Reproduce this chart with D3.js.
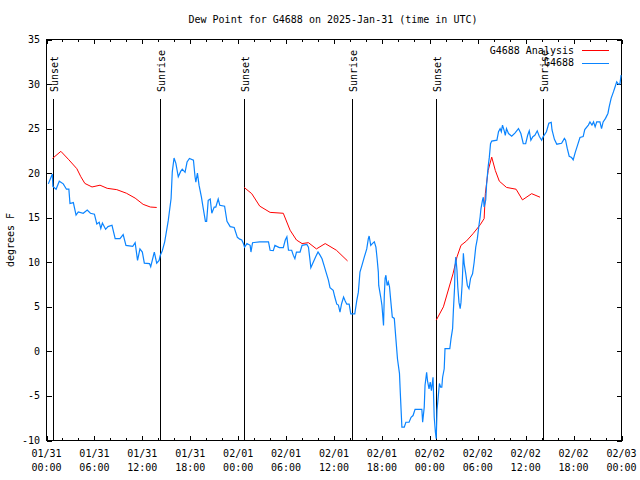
<!DOCTYPE html>
<html>
<head>
<meta charset="utf-8">
<script src="https://cdn.jsdelivr.net/npm/d3@7"></script>
<style>
  html, body { margin: 0; padding: 0; background: #fff; }
  svg { display: block; }
  text { font-family: "DejaVu Sans Mono", "Liberation Mono", monospace; font-size: 10px; fill: #000; }
</style>
</head>
<body>
<script>
// ---- data (hours after 2025-01-31 00:00 UTC, degrees F) ----
const titleText = "Dew Point for G4688 on 2025-Jan-31 (time in UTC)";
const yLabel = "degrees F";
const yTicks = [-10, -5, 0, 5, 10, 15, 20, 25, 30, 35];
const xMajorHours = [0, 6, 12, 18, 24, 30, 36, 42, 48, 54, 60, 66, 72];
const xMinorHours = d3.range(0, 73, 2);
const sunEvents = [
  ["Sunset", 0.85], ["Sunrise", 14.25], ["Sunset", 24.77],
  ["Sunrise", 38.29], ["Sunset", 48.81], ["Sunrise", 62.2]
];
const seriesNames = ["G4688 Analysis", "G4688"];

const analysisSeg1 = [[0.75,21.65],[1.8,22.45],[2.8,21.5],[3.8,20.5],[4.3,19.6],[4.8,18.85],[5.7,18.45],[6.7,18.65],[7.6,18.3],[8.8,18.15],[10.0,17.75],[11.1,17.2],[12.1,16.5],[13.0,16.2],[13.8,16.15]];
const analysisSeg2 = [[24.75,18.4],[25.7,17.7],[26.7,16.3],[28.0,15.6],[29.65,15.5],[30.5,13.6],[31.3,12.5],[32.0,12.1],[32.8,12.2],[33.8,11.5],[34.9,12.1],[36.3,11.35],[37.7,10.15]];
const analysisSeg3 = [[48.8,3.5],[49.7,5.0],[50.9,8.7],[51.4,10.6],[51.9,11.9],[52.6,12.4],[53.4,13.2],[54.3,14.2],[54.8,14.9],[54.95,17.7],[55.3,20.3],[55.75,21.8],[56.2,20.3],[56.7,19.1],[57.6,18.4],[58.8,18.2],[59.6,17.0],[60.75,17.7],[61.8,17.3]];

const obsDay1 = [[0.23,18.8],[0.5,19.4],[0.73,19.9],[0.8,18.5],[1.2,18.2],[1.6,19.1],[2.1,18.8],[2.5,18.2],[2.8,18.2],[2.94,16.6],[3.36,16.7],[3.7,15.3],[3.98,15.65],[4.6,15.5],[5.1,15.85],[5.5,15.5],[6.0,15.4],[6.3,14.3],[6.6,14.5],[6.8,13.8],[7.0,14.4],[7.4,13.7],[7.7,14.0],[8.2,14.15],[8.6,12.65],[9.2,12.65],[9.6,13.1],[9.95,11.9],[10.8,11.8],[11.1,12.2],[11.4,10.2],[11.7,11.5],[12.0,11.15],[12.25,9.9],[12.9,9.85],[13.05,9.5],[13.5,11.15],[13.8,9.9],[14.1,10.2],[14.25,10.8],
  [14.5,11.3],[14.8,12.3],[15.25,14.7],[15.6,17.15],[15.75,20.15],[15.97,21.7],[16.2,21.1],[16.5,19.6],[16.8,20.2],[17.0,20.45],[17.35,20.1],[17.6,21.25],[17.9,21.65],[18.4,21.45],[18.6,19.6],[18.7,19.0],[18.9,20.0],[19.1,18.65],[19.4,17.3],[19.6,16.2],[19.9,14.6],[20.05,14.6],[20.25,16.95],[20.5,17.1],[20.7,15.5],[21.0,16.2],[21.2,16.2],[21.5,17.1],[21.7,16.4],[22.3,16.3],[22.6,14.6],[23.0,14.0],[23.5,13.9],[23.9,12.8],[24.2,12.6]];
const obsDay2 = [[24.45,12.5],[24.65,12.1],[24.8,11.7],[25.1,12.1],[25.5,11.9],[25.6,11.15],[25.8,12.2],[26.7,12.3],[27.8,12.3],[28.0,11.35],[28.4,11.3],[28.6,11.9],[29.15,11.65],[29.65,11.65],[29.9,12.5],[30.1,12.85],[30.3,11.35],[30.7,11.35],[30.9,10.8],[31.1,10.4],[31.3,11.15],[31.75,11.15],[32.0,11.9],[32.6,12.0],[32.8,11.7],[33.0,10.2],[33.1,9.4],[33.4,10.0],[33.75,10.7],[34.0,11.15],[34.25,10.8],[34.5,10.4],[34.75,9.65],[35.0,8.9],[35.3,8.0],[35.5,7.15],[35.9,6.85],[36.1,6.1],[36.35,5.3],[36.55,5.2],[36.75,4.4],[36.95,5.35],[37.2,6.1],[37.4,5.65],[37.6,5.3],[37.9,5.3],[38.1,4.2],[38.6,4.2],[38.85,5.7],[39.05,6.65],[39.25,8.9],[39.5,9.65],[39.8,10.6],[40.1,11.5],[40.3,12.65],[40.4,12.95],[40.6,11.9],[40.8,12.1],[41.05,12.3],[41.25,11.7],[41.4,10.4],[41.55,8.9],[41.6,7.4],[41.85,6.1],[42.0,5.2],[42.1,4.05],[42.2,2.9],[42.3,6.3],[42.4,8.2],[42.5,8.55],[42.65,7.4],[42.8,7.8],[42.95,7.25],[43.1,5.75],[43.3,3.85],[43.55,3.7],[43.75,1.4],[43.95,-0.85],[44.2,-2.5],[44.3,-4.6],[44.5,-8.5],[44.8,-8.5],[45.0,-7.95],[45.4,-7.95],[45.65,-7.4],[45.9,-7.2],[46.15,-6.5],[47.0,-6.5],[47.1,-7.95],[47.3,-6.25],[47.4,-3.8],[47.6,-2.35],[47.7,-3.25],[47.9,-4.2],[48.05,-3.45],[48.2,-4.4],[48.4,-2.9],[48.55,-7.4],[48.7,-9.1],[48.8,-9.8],[48.9,-6.6]];
const obsDay3 = [[49.05,-5.1],[49.2,-3.6],[49.35,-4.0],[49.5,-4.0],[49.6,-2.9],[49.8,-1.95],[49.9,0.3],[50.5,0.3],[50.65,1.4],[50.85,2.55],[50.95,4.6],[51.1,7.2],[51.15,9.5],[51.25,10.6],[51.4,9.1],[51.5,7.2],[51.65,5.5],[51.8,4.8],[51.9,5.5],[52.05,7.6],[52.2,11.0],[52.3,9.85],[52.5,8.7],[52.7,7.4],[52.9,7.05],[53.1,8.2],[53.35,8.7],[53.55,10.0],[53.75,11.7],[53.95,12.65],[54.15,14.15],[54.3,15.1],[54.4,16.0],[54.6,17.0],[54.7,17.3],[54.8,16.2],[55.0,17.0],[55.1,18.65],[55.3,20.7],[55.45,21.8],[55.6,23.3],[55.75,23.6],[56.4,23.7],[56.6,24.65],[56.8,25.0],[56.95,24.65],[57.1,25.4],[57.3,24.8],[57.45,24.25],[57.6,25.0],[57.85,24.45],[58.25,24.15],[58.65,24.5],[59.1,25.0],[59.4,24.45],[59.7,23.3],[60.0,23.3],[60.25,24.25],[60.45,24.75],[60.65,23.7],[60.9,24.1],[61.15,24.25],[61.45,24.75],[61.7,24.15],[62.0,23.7],[62.2,24.1],[62.6,24.65],[62.9,25.6],[63.2,25.7],[63.3,24.85],[63.6,23.8],[63.9,23.25],[64.5,23.35],[64.85,23.9],[65.0,23.7],[65.2,22.8],[65.45,21.9],[65.75,21.75],[65.95,21.5],[66.2,22.3],[66.5,23.15],[66.8,24.0],[67.2,24.1],[67.4,24.9],[67.85,25.4],[68.05,25.75],[68.3,25.4],[68.5,25.75],[68.7,25.2],[68.9,25.75],[69.3,25.75],[69.5,25.0],[69.7,25.75],[70.0,26.15],[70.3,26.7],[70.45,27.4],[70.7,28.4],[71.0,29.15],[71.2,29.7],[71.4,30.25],[71.6,30.0],[71.8,30.0],[71.95,31.0]];

// ---- layout ----
const W = 640, H = 480;
const M = { left: 46.5, right: 621.5, top: 39.5, bottom: 440.5 };
const t0 = Date.UTC(2025, 0, 31);
const toDate = h => new Date(t0 + h * 3600e3);

const svg = d3.select("body").append("svg").attr("width", W).attr("height", H);

const x = d3.scaleUtc().domain([toDate(0), toDate(72)]).range([M.left, M.right]);
const y = d3.scaleLinear().domain([-10, 35]).range([M.bottom, M.top]);

const fmtDate = d3.utcFormat("%m/%d");
const fmtTime = d3.utcFormat("%H:%M");

// title
svg.append("text").attr("x", 333).attr("y", 23).attr("text-anchor", "middle").text(titleText);

// y label
svg.append("text").attr("transform", "translate(14,240) rotate(-90)")
  .attr("text-anchor", "middle").text(yLabel);

const axes = svg.append("g").attr("shape-rendering", "crispEdges");

// bottom/top/left/right inward ticks
axes.append("g").attr("transform", `translate(0,${M.bottom})`)
  .call(d3.axisBottom(x).tickValues(xMinorHours.map(toDate)).tickSizeInner(-2.5).tickSizeOuter(0).tickFormat(""));
axes.append("g").attr("transform", `translate(0,${M.bottom})`)
  .call(d3.axisBottom(x).tickValues(xMajorHours.map(toDate)).tickSizeInner(-4.5).tickSizeOuter(0).tickFormat(""));
axes.append("g").attr("transform", `translate(0,${M.top})`)
  .call(d3.axisTop(x).tickValues(xMinorHours.map(toDate)).tickSizeInner(-2.5).tickSizeOuter(0).tickFormat(""));
axes.append("g").attr("transform", `translate(0,${M.top})`)
  .call(d3.axisTop(x).tickValues(xMajorHours.map(toDate)).tickSizeInner(-4.5).tickSizeOuter(0).tickFormat(""));
axes.append("g").attr("transform", `translate(${M.left},0)`)
  .call(d3.axisLeft(y).tickValues(yTicks).tickSizeInner(-5).tickSizeOuter(0).tickFormat(""));
axes.append("g").attr("transform", `translate(${M.right},0)`)
  .call(d3.axisRight(y).tickValues(yTicks).tickSizeInner(-5).tickSizeOuter(0).tickFormat(""));
axes.selectAll(".domain").remove();
axes.selectAll(".tick line").attr("stroke", "#000");

// x tick labels (two lines)
const xl = svg.append("g").selectAll("text").data(xMajorHours).join("text")
  .attr("text-anchor", "middle")
  .attr("x", h => x(toDate(h)));
xl.append("tspan").attr("x", h => x(toDate(h))).attr("y", 457).text(h => fmtDate(toDate(h)));
xl.append("tspan").attr("x", h => x(toDate(h))).attr("y", 471).text(h => fmtTime(toDate(h)));

// y tick labels
svg.append("g").selectAll("text").data(yTicks).join("text")
  .attr("text-anchor", "end").attr("x", 40).attr("y", v => y(v)).attr("dy", "0.35em")
  .text(v => v);

// frame
svg.append("rect").attr("x", M.left).attr("y", M.top)
  .attr("width", M.right - M.left).attr("height", M.bottom - M.top)
  .attr("fill", "none").attr("stroke", "#000").attr("shape-rendering", "crispEdges");

// sunrise / sunset lines
const sun = svg.append("g");
sun.selectAll("line").data(sunEvents).join("line")
  .attr("x1", d => Math.round(x(toDate(d[1]))) + 0.5).attr("x2", d => Math.round(x(toDate(d[1]))) + 0.5)
  .attr("y1", 99).attr("y2", M.bottom)
  .attr("stroke", "#000").attr("shape-rendering", "crispEdges");
sun.selectAll("text").data(sunEvents).join("text")
  .attr("transform", d => `translate(${Math.round(x(toDate(d[1]))) + 1},92) rotate(-90)`)
  .attr("text-anchor", "start").attr("dy", "0.35em")
  .text(d => d[0]);

// series
const line = d3.line().x(d => x(toDate(d[0]))).y(d => y(d[1]));
const red = "#ff0000", blue = "#0a84ff";
[analysisSeg1, analysisSeg2, analysisSeg3].forEach(seg => {
  svg.append("path").datum(seg).attr("d", line)
    .attr("fill", "none").attr("stroke", red).attr("stroke-width", 1);
});
svg.append("path").datum(obsDay1.concat(obsDay2, obsDay3)).attr("d", line)
  .attr("fill", "none").attr("stroke", blue).attr("stroke-width", 1.2);

// legend
const legend = svg.append("g");
const legColors = [red, blue];
seriesNames.forEach((name, i) => {
  const ly = 50 + i * 12.5;
  legend.append("text").attr("x", 574).attr("y", ly).attr("dy", "0.35em")
    .attr("text-anchor", "end").text(name);
  legend.append("line").attr("x1", 582).attr("x2", 609).attr("y1", Math.round(ly) + 0.5).attr("y2", Math.round(ly) + 0.5)
    .attr("stroke", legColors[i]).attr("shape-rendering", "crispEdges");
});
</script>
</body>
</html>
